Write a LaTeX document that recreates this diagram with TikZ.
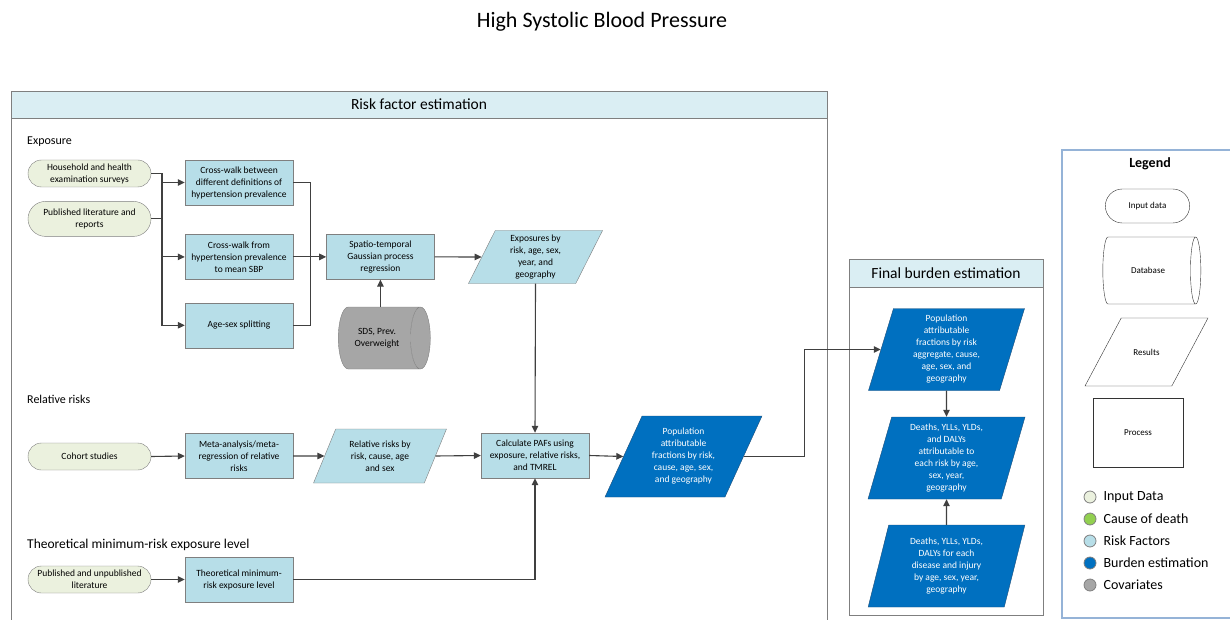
\documentclass[tikz,border=0pt]{standalone}
\usepackage{fontspec}
\setmainfont{Carlito}
\usetikzlibrary{shapes,shapes.geometric,shapes.misc,arrows.meta,positioning,calc}

\definecolor{inputfill}{HTML}{EBF1DE}
\definecolor{riskfill}{HTML}{B7DEE8}
\definecolor{burdenfill}{HTML}{0070C0}
\definecolor{burdenedge}{HTML}{1F4E79}
\definecolor{covfill}{HTML}{A6A6A6}
\definecolor{causefill}{HTML}{92D050}
\definecolor{headfill}{HTML}{DAEEF3}
\definecolor{edgegray}{HTML}{7F7F7F}
\definecolor{linegray}{HTML}{404040}
\definecolor{legendedge}{HTML}{95B3D7}

\tikzset{
  boxtext/.style={font=\fontsize{9.5}{12}\selectfont, align=center},
  inputdata/.style={rounded rectangle, draw=edgegray, fill=inputfill, boxtext,
    minimum width=125pt, minimum height=27pt, inner sep=1pt},
  procbox/.style={rectangle, draw=edgegray, fill=riskfill, boxtext,
    minimum width=108pt, minimum height=45pt, inner sep=1pt},
  riskpara/.style={trapezium, trapezium left angle=63.4, trapezium right angle=116.6,
    trapezium stretches, draw=edgegray, fill=riskfill, boxtext, inner sep=0pt},
  burdenpara/.style={riskpara, draw=burdenedge, fill=burdenfill, text=white},
  covdb/.style={cylinder, shape aspect=0.75, draw=edgegray, cylinder uses custom fill,
    cylinder body fill=covfill, cylinder end fill=covfill, boxtext,
    minimum width=62pt, minimum height=92pt},
  flow/.style={draw=linegray, line width=1.1pt, -{Triangle[length=7pt,width=6.5pt]}},
  link/.style={draw=linegray, line width=1.1pt},
  section/.style={font=\fontsize{12}{14}\selectfont, anchor=west, inner sep=0pt},
  header/.style={draw=edgegray, fill=headfill},
  swatch/.style={circle, draw=edgegray, line width=0.8pt, minimum size=12pt, inner sep=0pt},
  swatchlabel/.style={font=\fontsize{14}{16}\selectfont, anchor=west, inner sep=0pt}
}

\begin{document}
\begin{tikzpicture}[x=1pt, y=-1pt]
  \useasboundingbox (0,0) rectangle (1230,620);

  \node (title) at (602,22) {\fontsize{22}{26}\selectfont High Systolic Blood Pressure};

  % frames
  \draw[edgegray, line width=0.9pt] (11,625) -- (11,91) -- (827,91) -- (827,625);
  \draw[header, line width=0.9pt] (11,91) rectangle (827,118);
  \node[font=\fontsize{15.5}{18}\selectfont] (rfe) at (419,104.5) {Risk factor estimation};

  \draw[edgegray, line width=0.9pt] (849,259) rectangle (1043,615);
  \draw[header, line width=0.9pt] (849,259) rectangle (1043,287);
  \node[font=\fontsize{15.5}{18}\selectfont] (fbe) at (946,273) {Final burden estimation};

  \draw[legendedge, line width=1.2pt] (1240,150) -- (1062,150) -- (1062,618) -- (1240,618);

  % exposure
  \node[section] (lexp) at (27,142) {Exposure};
  \node[inputdata] (hhs) at (89.5,173.5) {Household and health\\examination surveys};
  \node[inputdata, minimum height=35pt, below=14pt of hhs] (publit) {Published literature and\\reports};
  \node[procbox] (cwdef) at (239,182.5) {Cross-walk between\\different definitions of\\hypertension prevalence};
  \node[procbox, below=29pt of cwdef] (cwsbp) {Cross-walk from\\hypertension prevalence\\to mean SBP};
  \node[procbox, below=23pt of cwsbp] (agesex) {Age-sex splitting};
  \node[procbox, right=33pt of cwsbp] (stgpr) {Spatio-temporal\\Gaussian process\\regression};
  \node[covdb] (covs) at (377,338) {SDS, Prev.\\Overweight};
  \node[riskpara, trapezium left angle=69, trapezium right angle=111,
    minimum width=135pt, minimum height=53pt] (expo) at (535.5,257) {Exposures by\\risk, age, sex,\\year, and\\geography};

  % relative risks
  \node[section] (lrr) at (27,399) {Relative risks};
  \node[inputdata] (cohort) at (89.5,456.5) {Cohort studies};
  \node[procbox] (metareg) at (239,456) {Meta-analysis/meta-\\regression of relative\\risks};
  \node[riskpara, minimum width=134pt, minimum height=54pt] (relrisk) at (380,456) {Relative risks by\\risk, cause, age\\and sex};
  \node[procbox] (calcpaf) at (535,455.5) {Calculate PAFs using\\exposure, relative risks,\\and TMREL};
  \node[burdenpara, minimum width=157pt, minimum height=81pt] (paf) at (683.5,456.5) {Population\\attributable\\fractions by risk,\\cause, age, sex,\\and geography};

  % tmrel
  \node[section, font=\fontsize{13.5}{16}\selectfont] (ltm) at (27,545) {Theoretical minimum-risk exposure level};
  \node[inputdata] (tmlit) at (89.5,579.5) {Published and unpublished\\literature};
  \node[procbox] (tmrel) at (239,579.5) {Theoretical minimum-\\risk exposure level};

  % final burden
  \node[burdenpara, trapezium left angle=77, trapezium right angle=103,
    minimum width=157pt, minimum height=82pt] (pafagg) at (946.5,349.5) {Population\\attributable\\fractions by risk\\aggregate, cause,\\age, sex, and\\geography};
  \node[burdenpara, trapezium left angle=77, trapezium right angle=103,
    minimum width=157pt, minimum height=82pt] (attrib) at (946.5,458) {Deaths, YLLs, YLDs,\\and DALYs\\attributable to\\each risk by age,\\sex, year,\\geography};
  \node[burdenpara, trapezium left angle=77, trapezium right angle=103,
    minimum width=157pt, minimum height=82pt] (alldeaths) at (946.5,566) {Deaths, YLLs, YLDs,\\DALYs for each\\disease and injury\\by age, sex, year,\\geography};

  % connectors
  \coordinate (split) at (162,173.5);
  \draw[link] (hhs.east) -- (split);
  \draw[link] (publit.east) -- (publit.east -| split);
  \draw[flow] (split) |- (cwdef.west);
  \draw[flow] (split) |- (cwsbp.west);
  \draw[flow] (split) |- (agesex.west);
  \coordinate (merge) at ($(cwsbp.east)+(17,0)$);
  \draw[link] (cwdef.east) -| (merge);
  \draw[link] (agesex.east) -| (merge);
  \draw[flow] (cwsbp.east) -- (stgpr.west);
  \draw[flow] (stgpr.south |- covs.north) -- (stgpr.south);
  \draw[flow] (stgpr.east) -- (expo.west);
  \draw[flow] (expo.south) -- (calcpaf.north);

  \draw[flow] (cohort.east) -- (metareg.west);
  \draw[flow] (metareg.east) -- (relrisk.west);
  \draw[flow] (relrisk.east) -- (calcpaf.west);
  \draw[flow] (calcpaf.east) -- (paf.west);

  \draw[flow] (tmlit.east) -- (tmrel.west);
  \draw[flow] (tmrel.east) -| (calcpaf.south);

  \draw[flow] (paf.east) -- ++(61,0) |- (pafagg.west);
  \draw[flow] (pafagg.south) -- (attrib.north);
  \draw[flow] (alldeaths.north) -- (attrib.south);

  % legend
  \node[font=\fontsize{14}{16}\selectfont\bfseries] (leg) at (1150,164) {Legend};
  \node[rounded rectangle, draw=black!80, minimum width=91pt, minimum height=34pt,
    font=\fontsize{9}{11}\selectfont] (leginput) at (1147.5,206) {Input data};
  \node[cylinder, shape aspect=0.8, draw=black!80, minimum width=67pt, minimum height=98pt,
    font=\fontsize{9}{11}\selectfont] (legdb) at (1148,270.5) {Database};
  \node[trapezium, trapezium left angle=61, trapezium right angle=119, trapezium stretches body,
    draw=black!80, inner xsep=2pt, inner ysep=29.5pt, minimum width=123pt, minimum height=68pt,
    font=\fontsize{9}{11}\selectfont] (legres) at (1146.5,352) {Results};
  \node[rectangle, draw=black!80, minimum width=90pt, minimum height=69pt,
    font=\fontsize{9}{11}\selectfont] (legproc) at (1138,432.5) {Process};

  \foreach \fillc/\txt [count=\i] in {inputfill/Input Data, causefill/Cause of death,
      riskfill/Risk Factors, burdenfill/Burden estimation, covfill/Covariates} {
    \node[swatch, fill=\fillc] (sw\i) at (1090,{475+22*\i}) {};
    \node[swatchlabel, right=7pt of sw\i] (swl\i) {\txt};
  }
\end{tikzpicture}
\end{document}
